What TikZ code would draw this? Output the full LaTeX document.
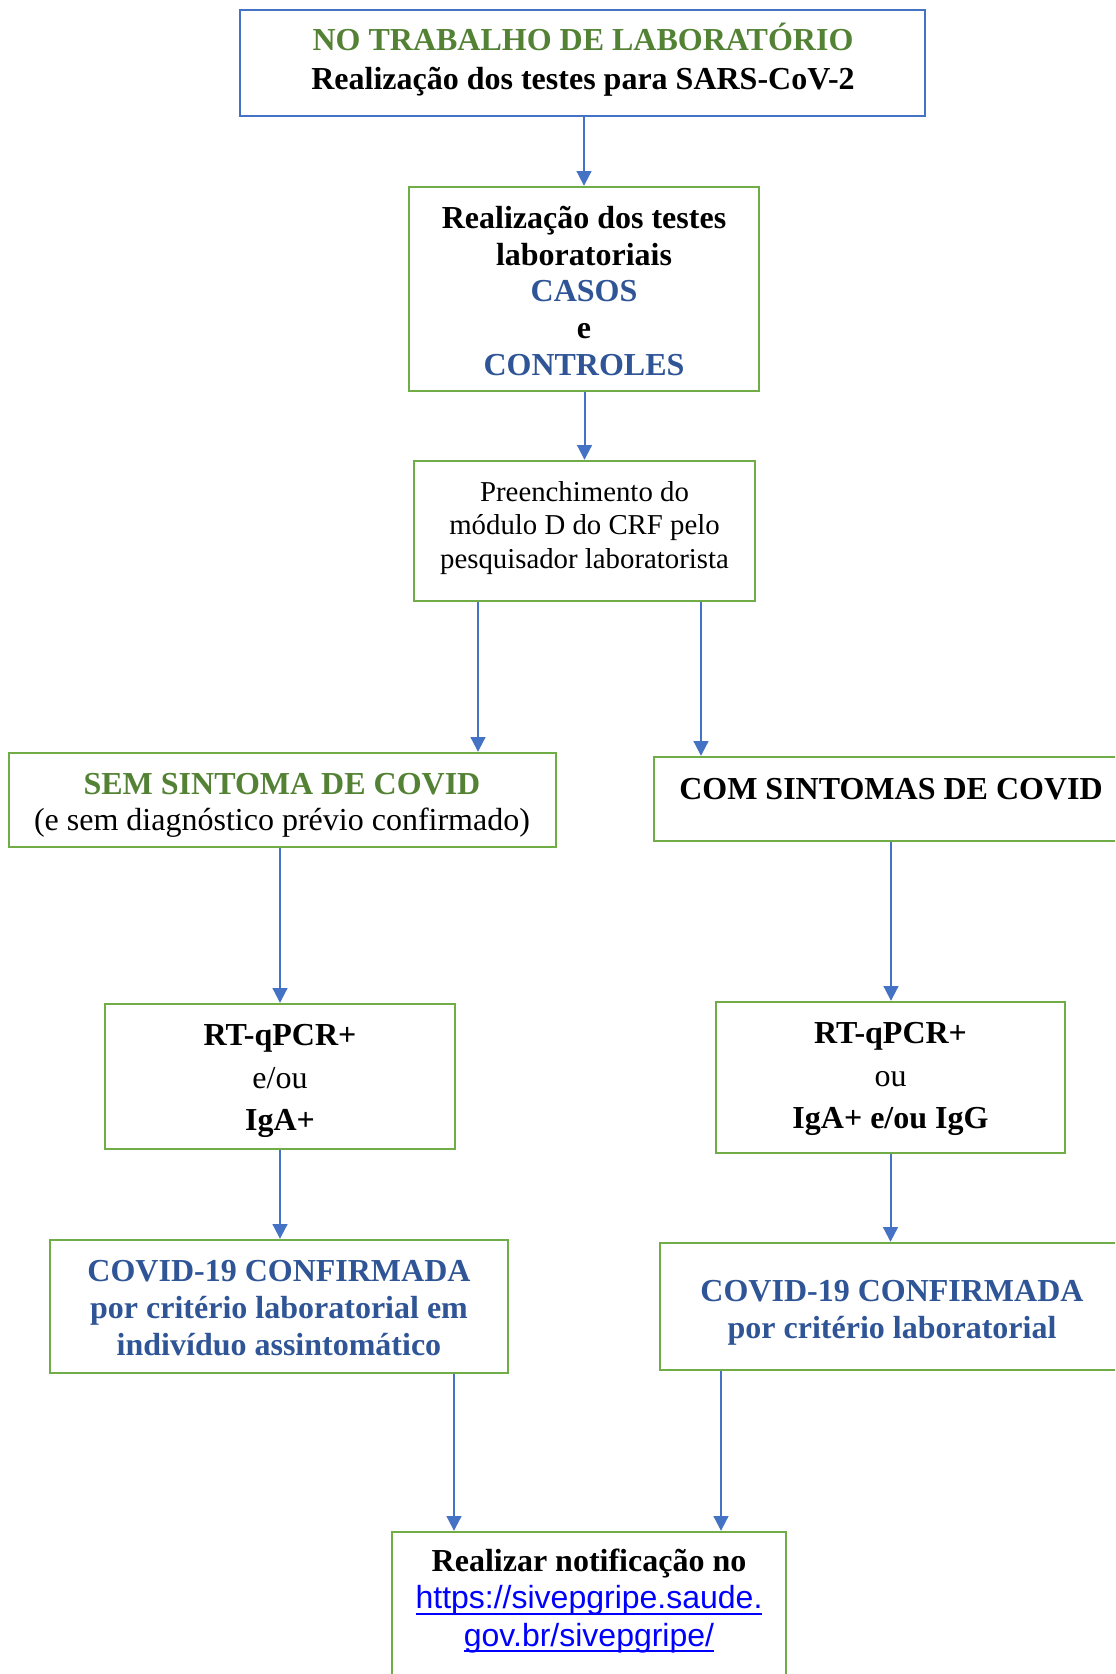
\documentclass[tikz,border=0pt]{standalone}
\usepackage{fontspec}
\setmainfont{Liberation Serif}
\newfontfamily\linkfont{Liberation Sans}
\usetikzlibrary{arrows.meta,fit,calc}

\definecolor{boxblue}{HTML}{4472C4}
\definecolor{boxgreen}{HTML}{70AD47}
\definecolor{greentxt}{HTML}{548235}
\definecolor{bluetxt}{HTML}{2F5597}
\definecolor{linkblue}{HTML}{0000FF}

% underlined hyperlink text, line drawn through the descenders
\newcommand\weblink[1]{\setbox0\hbox{#1}\rlap{\rule[-4.5pt]{\wd0}{1.4pt}}\box0}

\tikzset{
  frame/.style={draw=boxgreen, line width=1.8pt, inner sep=0pt},
  framebl/.style={frame, draw=boxblue},
  txt/.style={align=center, inner sep=0pt, font=\fontsize{24}{27.6}\selectfont},
  txtb/.style={align=center, inner sep=0pt, font=\fontsize{24}{27.6}\selectfont\bfseries},
  flow/.style={draw=boxblue, line width=1.5pt, -{Triangle[width=11pt,length=11pt]}},
}

\begin{document}
\begin{tikzpicture}[x=0.75pt,y=-0.75pt]
\useasboundingbox (0,0) rectangle (1115,1674);
\fill[white] (0,0) rectangle (1115,1674);
\begin{scope}
\clip (0,0) rectangle (1115,1674);

% boxes
\node[framebl, fit={(240,10)(925,116)}] (top) {};
\node[frame, fit={(409,187)(759,391)}] (b2) {};
\node[frame, fit={(414,461)(755,601)}] (b3) {};
\node[frame, fit={(9,753)(556,847)}] (sem) {};
\node[frame, fit={(654,757)(1128,841)}] (com) {};
\node[frame, fit={(105,1004)(455,1149)}] (rtL) {};
\node[frame, fit={(716,1002)(1065,1153)}] (rtR) {};
\node[frame, fit={(50,1240)(508,1373)}] (cvL) {};
\node[frame, fit={(660,1243)(1124,1370)}] (cvR) {};
\node[frame, fit={(392,1532)(786,1710)}] (fin) {};

% texts
\node[txtb, font=\fontsize{24}{29}\selectfont\bfseries] (ttop) at (583,60)
  {\textcolor{greentxt}{NO TRABALHO DE LABORATÓRIO}\\Realização dos testes para SARS-CoV-2};
\node[txtb] (tb2) at (584,291)
  {Realização dos testes\\laboratoriais\\\textcolor{bluetxt}{CASOS}\\e\\\textcolor{bluetxt}{CONTROLES}};
\node[txt, font=\fontsize{21.6}{25.2}\selectfont] (tb3) at (584.5,528)
  {Preenchimento do\\módulo D do CRF pelo\\pesquisador laboratorista};
\node[txt, font=\fontsize{24}{27.2}\selectfont] (tsem) at (282,805)
  {\textcolor{greentxt}{\bfseries SEM SINTOMA DE COVID}\\(e sem diagnóstico prévio confirmado)};
\node[txtb] (tcom) at (891,789) {COM SINTOMAS DE COVID};
\node[txt, font=\fontsize{24}{32}\selectfont] (trtL) at (280,1081)
  {\textbf{RT-qPCR+}\\e/ou\\\textbf{IgA+}};
\node[txt, font=\fontsize{24}{32}\selectfont] (trtR) at (890.5,1079)
  {\textbf{RT-qPCR+}\\ou\\\textbf{IgA+ e/ou IgG}};
\node[txtb, text=bluetxt] (tcvL) at (279,1308)
  {COVID-19 CONFIRMADA\\por critério laboratorial em\\indivíduo assintomático};
\node[txtb, text=bluetxt] (tcvR) at (892,1313)
  {COVID-19 CONFIRMADA\\por critério laboratorial};
\node[txt, font=\fontsize{24}{28}\selectfont] (tfin) at (589,1601)
  {\textbf{Realizar notificação no}\\
   \textcolor{linkblue}{\linkfont\weblink{https://sivepgripe.saude.}}\\
   \textcolor{linkblue}{\linkfont\weblink{gov.br/sivepgripe/}}};

% connectors
\path ($(b3.south)+(-106.5,0)$) coordinate (o1)
      ($(b3.south)+(116.5,0)$) coordinate (o2)
      ($(cvL.south)+(175,0)$) coordinate (o3)
      ($(cvR.south)+(-171,0)$) coordinate (o4);

\draw[flow] (b2.north |- top.south) -- (b2.north);
\draw[flow] (b3.north |- b2.south) -- (b3.north);
\draw[flow] (o1) -- (o1 |- sem.north);
\draw[flow] (o2) -- (o2 |- com.north);
\draw[flow] (rtL.north |- sem.south) -- (rtL.north);
\draw[flow] (com.south) -- (com.south |- rtR.north);
\draw[flow] (rtL.south) -- (rtL.south |- cvL.north);
\draw[flow] (rtR.south) -- (rtR.south |- cvR.north);
\draw[flow] (o3) -- (o3 |- fin.north);
\draw[flow] (o4) -- (o4 |- fin.north);
\end{scope}
\end{tikzpicture}
\end{document}
